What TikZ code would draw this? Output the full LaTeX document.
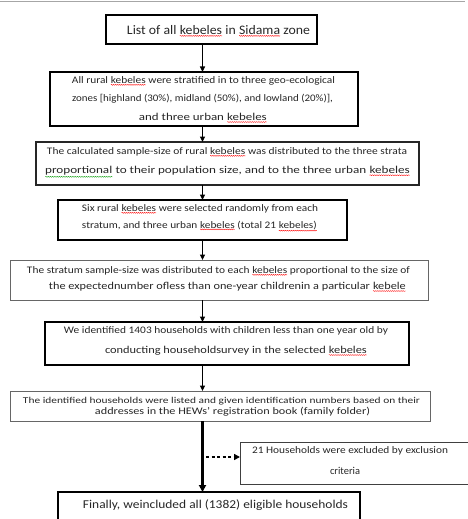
\documentclass[tikz,border=0pt]{standalone}
\usepackage{fontspec}
\setmainfont{Carlito}
\usepackage{graphicx}
\usetikzlibrary{arrows.meta,decorations.pathmorphing}
\newcommand\fitw[2]{\resizebox{#1pt}{\height}{#2}}
\newcommand\wv[2][red]{\tikz[baseline=(wvw.base)]{\node[inner sep=0pt,outer sep=0pt](wvw){#2};\draw[#1,line width=0.35pt,decorate,decoration={snake,amplitude=0.45pt,segment length=1.8pt}]([yshift=-1.3pt]wvw.south west)--([yshift=-1.3pt]wvw.south east);}}
\newcommand\kb{\wv{kebeles}}
\tikzset{
  box/.style={draw, inner sep=0pt, outer sep=0pt},
  txt/.style={inner sep=0pt, outer sep=0pt, text=black!85},
  cnd/.style={txt, font=\fontsize{10}{11}\selectfont},
  cal/.style={txt, font=\fontsize{10.5}{12}\selectfont},
  arr/.style={line width=1.2pt, -{Triangle[length=5.5pt,width=5pt]}},
}
\begin{document}
\begin{tikzpicture}[x=1pt,y=-1pt]
\useasboundingbox (0,0) rectangle (468,519);
\draw[gray!70, line width=1pt] (0,2) -- (465,2);
\coordinate (ax) at (202.5,0);
\coordinate (dstart) at (206,457);
% boxes
\node[box, line width=2pt, minimum width=211pt, minimum height=29pt] (b1) at (211.5,29.5) {};
\node[box, line width=1.5pt, minimum width=308pt, minimum height=54pt] (b2) at (204,99) {};
\node[box, line width=1.1pt, draw=black!85, minimum width=383pt, minimum height=43pt] (b3) at (227.5,163.5) {};
\node[box, line width=1.5pt, minimum width=289pt, minimum height=40pt] (b4) at (202.5,220) {};
\node[box, line width=1pt, draw=black!60, minimum width=418pt, minimum height=40pt] (b5) at (219,280) {};
\node[box, line width=1.5pt, minimum width=364pt, minimum height=43pt] (b6) at (227,343.5) {};
\node[box, line width=1pt, draw=black!60, minimum width=420pt, minimum height=30pt] (b7) at (220,406) {};
\node[box, line width=1pt, draw=black!75, minimum width=235pt, minimum height=42pt] (rb) at (357.5,463) {};
\node[box, line width=2.2pt, minimum width=302pt, minimum height=38pt] (b8) at (209,511) {};
% texts
\node[txt, font=\fontsize{13}{14}\selectfont] (t1) at (218.5,31) {\fitw{183}{List of all \wv{kebeles} in \wv{Sidama} zone}};
\node[cnd] (t2a) at (203.5,81) {\fitw{263}{All rural \kb\ were stratified in to three geo-ecological}};
\node[cnd] (t2b) at (202.5,99) {\fitw{261}{zones [highland (30\%), midland (50\%), and lowland (20\%)],}};
\node[cal] (t2c) at (203,118) {\fitw{128}{and three urban \kb}};
\node[cnd] (t3a) at (227,152) {\fitw{360}{The calculated sample-size of rural \kb\ was distributed to the three strata}};
\node[cal] (t3b) at (227.5,172) {\fitw{365}{\wv[green!60!black]{proportional} to their population size, and to the three urban \kb}};
\node[cnd] (t4a) at (200,209) {\fitw{236}{Six rural \kb\ were selected randomly from each}};
\node[cnd] (t4b) at (199.5,226) {\fitw{235}{stratum, and three urban \kb\ (total 21 \wv{kebeles)}}};
\node[cnd] (t5a) at (218.5,271) {\fitw{383}{The stratum sample-size was distributed to each \kb\ proportional to the size of}};
\node[cal] (t5b) at (227.5,287) {\fitw{357}{the expectednumber ofless than one-year childrenin a particular \wv{kebele}}};
\node[cnd] (t6a) at (226,331) {\fitw{324}{We identified 1403 households with children less than one year old by}};
\node[cal] (t6b) at (236,351) {\fitw{262}{conducting householdsurvey in the selected \kb}};
\node[cnd, font=\fontsize{9}{10}\selectfont] (t7a) at (221.5,401) {\fitw{397}{The identified households were listed and given identification numbers based on their}};
\node[cal, font=\fontsize{10}{11}\selectfont] (t7b) at (232.5,412) {\fitw{275}{addresses in the HEWs' registration book (family folder)}};
\node[cnd] (tra) at (350,451) {\fitw{196}{21 Households were excluded by exclusion}};
\node[cal] (trb) at (345,471) {\fitw{30}{criteria}};
\node[txt, font=\fontsize{12}{14}\selectfont] (t8) at (215.5,505) {\fitw{265}{Finally, weincluded all (1382) eligible households}};
% connectors
\draw[arr] (b1.south -| ax) -- (b2.north -| ax);
\draw[arr] (b2.south -| ax) -- (b3.north -| ax);
\draw[arr] (b3.south -| ax) -- (b4.north -| ax);
\draw[arr] (b4.south -| ax) -- (b5.north -| ax);
\draw[arr] (b5.south -| ax) -- (b6.north -| ax);
\draw[arr] (b6.south -| ax) -- (b7.north -| ax);
\draw[line width=2.5pt, -{Triangle[length=7pt,width=7pt]}] (b7.south -| ax) -- (b8.north -| ax);
\draw[line width=2pt, dash pattern=on 3pt off 2.5pt, -{Triangle[length=6pt,width=6pt]}] (dstart) -- (rb.west |- dstart);
\end{tikzpicture}
\end{document}
